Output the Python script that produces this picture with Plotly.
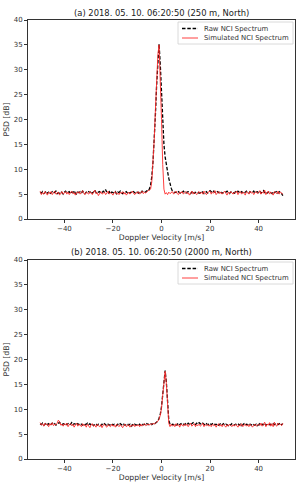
import numpy as np
import plotly.graph_objects as go
from plotly.subplots import make_subplots

# Doppler velocity grid (m/s), step 0.5 from -50 to 50
velocity = np.arange(-50, 50.25, 0.5)

raw_250 = [
    5.4,5.2,5.5,5.1,5.3,5.6,5.2,5.4,5.0,5.3,5.5,5.2,5.4,5.6,5.1,5.3,5.2,5.5,5.3,5.0,
    5.4,5.6,5.2,5.3,5.5,5.1,5.4,5.3,5.7,5.2,5.0,5.4,5.3,5.5,5.2,5.6,5.3,5.1,5.4,5.2,
    5.5,5.3,5.6,5.2,5.4,5.8,5.3,5.1,5.4,5.5,5.2,5.3,5.6,5.4,5.9,5.3,5.2,5.5,5.1,5.4,
    5.3,5.2,5.5,5.0,5.4,5.3,5.6,5.2,5.1,5.4,5.3,5.5,5.2,5.0,5.3,5.4,5.2,5.5,5.3,5.1,
    5.4,5.2,5.5,5.3,5.6,5.4,5.3,5.5,5.7,5.6,6.0,6.8,8.5,11.5,15.5,21.0,27.0,32.0,35.2,31.0,
    25.0,19.0,15.0,12.5,10.5,9.5,8.2,7.0,6.2,5.6,5.5,5.3,5.4,5.2,5.5,5.3,5.1,5.4,5.6,5.3,
    5.2,5.4,5.5,5.3,5.1,5.4,5.6,5.2,5.3,5.5,5.4,5.2,5.3,5.6,5.4,5.1,5.3,5.5,5.2,5.4,
    5.7,5.5,5.3,5.6,5.4,5.2,5.5,5.3,5.6,5.4,5.2,5.3,5.5,5.4,5.6,5.3,5.1,5.4,5.5,5.3,
    5.2,5.5,5.3,5.6,5.4,5.2,5.5,5.3,5.1,5.4,5.6,5.3,5.2,5.5,5.4,5.3,5.6,5.2,5.4,5.5,
    5.3,5.6,5.2,5.4,5.7,5.3,5.5,5.2,5.4,5.6,5.3,5.1,5.5,5.3,5.4,5.6,5.2,5.5,5.3,5.1,
    4.7,
]

sim_250 = [
    5.6,4.9,5.3,5.0,5.5,5.2,4.8,5.4,5.1,5.5,4.9,5.3,5.6,5.0,5.2,5.4,4.8,5.3,5.5,5.0,
    5.3,5.5,5.0,5.4,4.9,5.2,5.6,5.1,5.3,4.8,5.4,5.2,5.5,5.0,5.3,5.7,5.1,4.9,5.4,5.2,
    5.0,5.5,5.2,4.9,5.4,5.8,5.1,5.3,4.7,5.2,5.5,5.0,5.3,5.4,4.9,5.2,5.6,5.0,5.3,5.1,
    4.8,5.3,5.5,5.0,5.2,4.9,5.4,5.1,5.5,5.0,5.3,4.8,5.2,5.4,5.0,5.3,5.6,5.1,4.9,5.3,
    5.2,5.5,5.0,5.3,5.6,5.1,5.4,5.2,5.5,5.7,5.8,6.0,7.5,11.0,16.0,22.0,28.0,33.0,35.0,29.0,
    20.0,11.0,6.0,5.0,5.3,4.9,5.4,5.1,5.3,5.5,5.0,5.3,5.6,5.1,4.9,5.4,5.2,5.5,5.0,5.3,
    5.5,5.1,5.3,4.8,5.2,5.6,5.0,5.4,5.2,4.9,5.3,5.5,5.1,5.4,5.0,5.6,5.2,4.9,5.3,5.5,
    5.6,5.0,5.4,5.2,5.7,4.9,5.3,5.5,5.1,5.4,5.0,5.3,5.6,5.2,4.8,5.4,5.1,5.5,5.3,5.0,
    5.4,5.2,5.6,4.9,5.3,5.5,5.0,5.4,5.2,4.8,5.5,5.3,5.0,5.6,5.2,5.4,4.9,5.3,5.5,5.1,
    5.3,5.7,5.0,5.4,5.2,5.8,4.9,5.3,5.6,5.0,5.4,5.2,4.8,5.5,5.3,5.1,5.6,5.0,5.4,5.2,
    5.0,
]

raw_2000 = [
    7.1,6.9,7.2,6.8,7.0,7.3,6.9,7.1,6.8,7.0,7.2,6.9,7.1,6.8,7.0,7.2,7.4,7.0,6.9,7.1,
    7.0,7.2,6.9,7.1,6.8,7.0,7.3,6.9,7.1,7.0,6.8,7.1,6.9,7.2,7.0,6.8,7.1,6.9,7.0,7.2,
    6.9,7.1,6.8,7.0,6.7,6.9,7.1,6.8,7.0,6.9,6.7,7.0,6.8,7.1,6.9,6.7,7.0,6.8,6.9,7.1,
    6.8,7.0,6.9,6.7,7.0,6.8,7.1,6.9,6.7,7.0,6.8,6.9,7.1,6.8,7.0,6.6,6.9,6.7,7.0,6.8,
    6.9,6.7,7.0,6.8,7.1,6.9,7.0,6.8,7.1,6.9,7.0,7.2,6.9,7.1,7.0,7.2,7.3,7.6,8.2,9.0,
    10.5,13.0,16.0,17.8,15.5,11.0,7.8,7.0,6.8,7.0,6.9,7.1,6.8,7.0,7.2,6.9,7.1,6.8,7.0,6.9,
    7.1,6.9,7.2,7.0,6.8,7.1,7.3,7.0,6.9,7.2,7.0,7.3,7.1,6.9,7.2,7.0,6.8,7.1,6.9,7.0,
    7.2,6.9,7.1,6.8,7.0,6.9,7.1,6.8,7.0,7.2,6.9,7.1,6.8,7.0,6.9,6.7,7.0,6.8,7.1,6.9,
    6.8,7.0,6.9,7.1,6.8,7.0,6.7,6.9,7.1,6.8,7.0,6.9,6.7,7.0,6.8,7.1,6.9,6.8,7.0,6.7,
    6.9,7.1,6.8,7.0,6.9,7.2,6.8,7.0,7.1,6.9,7.0,6.8,7.1,6.9,7.0,7.2,6.9,7.1,6.8,7.0,
    7.1,
]

sim_2000 = [
    7.3,6.8,7.1,6.6,7.2,6.9,7.0,6.5,7.1,6.8,7.3,6.7,7.0,6.9,7.2,7.8,7.5,6.8,7.0,6.6,
    7.1,6.8,7.2,6.5,6.9,7.1,6.7,7.0,6.4,6.9,7.2,6.6,7.0,6.8,6.5,7.1,6.7,6.9,6.4,7.0,
    6.7,6.3,6.9,7.1,6.6,6.8,6.4,7.0,6.7,6.5,6.9,6.3,6.8,7.0,6.6,6.4,6.9,6.7,6.5,7.0,
    6.6,6.8,6.4,7.0,6.7,6.5,6.9,6.6,6.3,6.8,7.0,6.5,6.7,6.9,6.4,6.8,6.6,7.0,6.5,6.8,
    6.7,6.9,6.5,7.0,6.6,6.8,7.1,6.7,6.9,7.0,6.8,7.1,6.9,7.2,7.0,7.3,7.4,7.6,8.0,8.8,
    10.2,12.8,15.8,17.6,15.2,10.5,7.2,6.5,7.0,6.6,6.9,6.5,7.1,6.7,6.9,6.4,7.0,6.8,6.6,7.1,
    6.7,7.0,6.5,6.9,7.2,6.6,6.8,7.1,6.5,6.9,6.7,7.0,6.6,6.8,7.2,6.5,6.9,6.7,7.0,6.6,
    6.8,6.5,7.0,6.7,6.9,6.4,6.8,7.1,6.6,6.9,6.5,7.0,6.7,6.4,6.9,6.6,7.0,6.8,6.5,6.9,
    6.6,7.0,6.7,6.4,6.9,6.6,7.1,6.5,6.8,7.0,6.6,6.9,6.5,7.0,6.7,6.4,6.8,7.0,6.6,6.9,
    7.0,6.7,7.2,6.6,6.9,7.4,6.5,7.0,6.8,7.3,6.6,7.1,6.5,7.4,6.8,6.6,7.2,6.9,7.0,6.7,
    7.2,
]

titles = ["(a) 2018. 05. 10. 06:20:50 (250 m, North)",
          "(b) 2018. 05. 10. 06:20:50 (2000 m, North)"]
series_names = ["Raw NCI Spectrum", "Simulated NCI Spectrum"]
x_ticks = [-40, -20, 0, 20, 40]
y_ticks = [0, 5, 10, 15, 20, 25, 30, 35, 40]

W, H = 298, 483
ml, mr, mt, mb = 28, 3, 20, 24
pw = W - ml - mr
ph = H - mt - mb
top_dom = [(H - 219 - mb) / ph, 1.0]
bot_dom = [0.0, (H - 260 - mb) / ph]

def px(x):
    return (x - ml) / pw

def py(y):
    return (H - mb - y) / ph

RAW_DASH = "3.5px,1.8px"
RED = "#ff2a2a"
TXT = "#333333"

fig = make_subplots(rows=2, cols=1)
fig.update_layout(yaxis=dict(domain=top_dom), yaxis2=dict(domain=bot_dom))

panels = [(raw_250, sim_250), (raw_2000, sim_2000)]
for i, (raw, sim) in enumerate(panels, start=1):
    fig.add_trace(go.Scatter(x=velocity[:len(raw)], y=raw, mode="lines", name=series_names[0],
                             line=dict(color="black", width=1.3, dash=RAW_DASH), showlegend=False),
                  row=i, col=1)
    fig.add_trace(go.Scatter(x=velocity[:len(sim)], y=sim, mode="lines", name=series_names[1],
                             line=dict(color=RED, width=0.9), showlegend=False),
                  row=i, col=1)

tick_font = dict(family="DejaVu Sans", size=7, color=TXT)
lab_font = dict(family="DejaVu Sans", size=7.7, color=TXT)
for i in (1, 2):
    fig.update_xaxes(range=[-55, 55], tickvals=x_ticks, ticks="outside", ticklen=3,
                     tickcolor=TXT, showline=True, linecolor=TXT, linewidth=0.8,
                     mirror=True, showgrid=False, zeroline=False, tickfont=tick_font,
                     title=dict(text="Doppler Velocity [m/s]", font=lab_font, standoff=2),
                     row=i, col=1)
    fig.update_yaxes(range=[0, 40], tickvals=y_ticks, ticks="outside", ticklen=3,
                     tickcolor=TXT, showline=True, linecolor=TXT, linewidth=0.8,
                     mirror=True, showgrid=False, zeroline=False, tickfont=tick_font,
                     title=dict(text="PSD [dB]", font=lab_font, standoff=3),
                     row=i, col=1)

# Manual matplotlib-style legends (box, line samples, labels) in paper coordinates
shapes = []
annotations = []
for top in (22, 262):
    shapes.append(dict(type="rect", xref="paper", yref="paper",
                       x0=px(178), x1=px(293), y0=py(top), y1=py(top + 22),
                       line=dict(color="#d0d0d0", width=0.8), fillcolor="rgba(255,255,255,0.8)"))
    for k, (name, col, dash, lw) in enumerate([(series_names[0], "black", RAW_DASH, 1.3),
                                               (series_names[1], RED, "solid", 0.9)]):
        yy = top + 6.5 + 9.5 * k
        shapes.append(dict(type="line", xref="paper", yref="paper",
                           x0=px(182), x1=px(198), y0=py(yy), y1=py(yy),
                           line=dict(color=col, width=lw, dash=dash)))
        annotations.append(dict(text=name, x=px(202), y=py(yy), xref="paper", yref="paper",
                                xanchor="left", yanchor="middle", showarrow=False,
                                font=dict(family="DejaVu Sans", size=6.9, color=TXT)))

for t, ytop, ys in zip(titles, (top_dom[1], bot_dom[1]), (7, 8)):
    annotations.append(dict(text=t, x=0.5, y=ytop, xref="paper", yref="paper", xanchor="center",
                            yanchor="middle", yshift=ys, showarrow=False,
                            font=dict(family="DejaVu Sans", size=8.4, color="#222222")))

fig.update_layout(
    width=W, height=H,
    margin=dict(l=ml, r=mr, t=mt, b=mb),
    paper_bgcolor="white", plot_bgcolor="white",
    shapes=shapes, annotations=annotations,
)

fig.write_html("out.html")
